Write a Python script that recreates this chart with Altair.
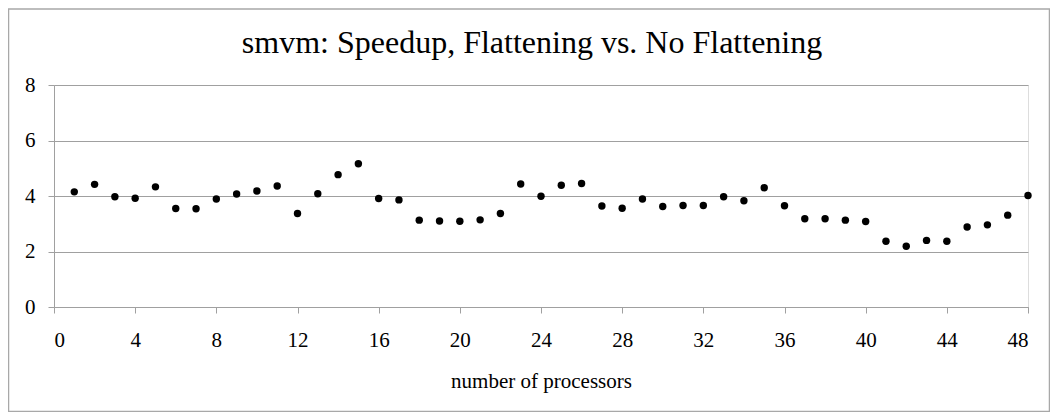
import altair as alt
import pandas as pd

processors = list(range(1, 49))
speedup = [4.15, 4.42, 3.97, 3.92, 4.33, 3.55, 3.54, 3.89, 4.07, 4.18,
           4.36, 3.37, 4.08, 4.77, 5.16, 3.91, 3.86, 3.13, 3.10, 3.09,
           3.14, 3.37, 4.43, 3.99, 4.39, 4.45, 3.64, 3.56, 3.89, 3.62,
           3.66, 3.66, 3.97, 3.83, 4.30, 3.65, 3.18, 3.18, 3.13, 3.08,
           2.37, 2.19, 2.40, 2.37, 2.88, 2.96, 3.31, 4.02]
x_ticks = list(range(0, 49, 4))
y_ticks = [0, 2, 4, 6, 8]

title_text = "smvm: Speedup, Flattening vs. No Flattening"
x_title = "number of processors"

df = pd.DataFrame({"processors": processors, "speedup": speedup})

FONT = "Liberation Serif"
GRAY = "#a0a0a0"

points = alt.Chart(df).mark_circle(size=55, color="black", opacity=1).encode(
    x=alt.X("processors:Q",
            scale=alt.Scale(domain=[0, 48], nice=False, zero=False),
            axis=alt.Axis(values=x_ticks, title=x_title, grid=False,
                          domainColor=GRAY, tickColor=GRAY, tickSize=6,
                          labelFont=FONT, labelFontSize=21, labelColor="black",
                          labelBaseline="alphabetic", labelPadding=33,
                          titleFont=FONT, titleFontSize=21, titleFontWeight="normal",
                          titleColor="black", titleBaseline="alphabetic", titleY=80)),
    y=alt.Y("speedup:Q",
            scale=alt.Scale(domain=[0, 8], nice=False),
            axis=alt.Axis(values=y_ticks, title=None, grid=True, gridColor=GRAY,
                          domainColor=GRAY, tickColor=GRAY, tickSize=6,
                          labelFont=FONT, labelFontSize=21, labelColor="black",
                          labelPadding=13)),
)

border = alt.Chart(pd.DataFrame({"a": [0]})).mark_rect(
    fill="transparent", stroke="#a8a8a8", strokeWidth=1.5
).encode(
    x=alt.value(-45.5), x2=alt.value(995.5),
    y=alt.value(-76), y2=alt.value(326.5),
)

title = alt.Chart(pd.DataFrame({"t": [title_text]})).mark_text(
    font=FONT, fontSize=32, color="black", align="center", baseline="alphabetic"
).encode(
    text="t:N", x=alt.value(478), y=alt.value(-31.7),
)

chart = alt.layer(border, points, title).properties(
    width=974, height=222,
    autosize=alt.AutoSizeParams(type="none"),
    padding={"left": 46, "top": 77, "right": 22, "bottom": 105},
).configure_view(stroke=None).configure(font=FONT).configure_axis(
    labelFont=FONT, titleFont=FONT
)

chart.save("out.html", embed_options={"renderer": "svg", "actions": False})
